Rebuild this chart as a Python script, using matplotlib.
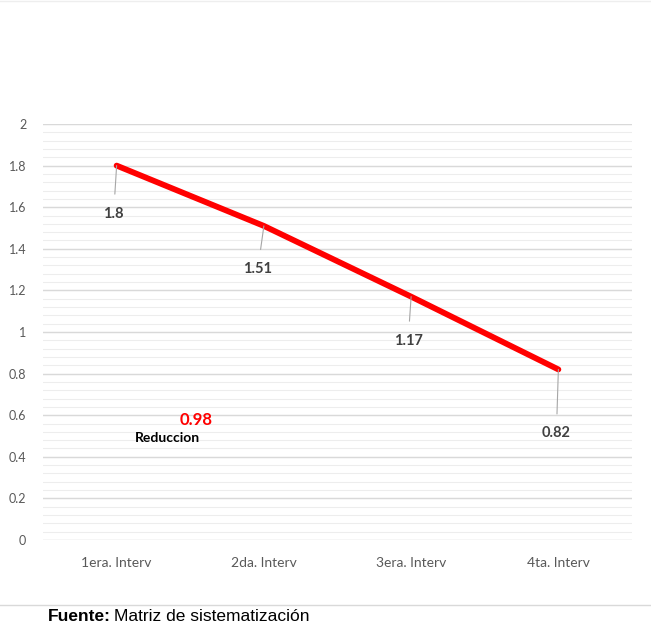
import matplotlib
matplotlib.use("Agg")
import matplotlib.pyplot as plt
import numpy as np

categories = ["1era. Interv", "2da. Interv", "3era. Interv", "4ta. Interv"]
values = [1.8, 1.51, 1.17, 0.82]
value_labels = ["1.8", "1.51", "1.17", "0.82"]
yticks = [0, 0.2, 0.4, 0.6, 0.8, 1.0, 1.2, 1.4, 1.6, 1.8, 2.0]
ytick_labels = ["0", "0.2", "0.4", "0.6", "0.8", "1", "1.2", "1.4", "1.6", "1.8", "2"]
reduction = "0.98"
reduction_label = "Reduccion"

plt.rcParams['font.family'] = ['Lato', 'DejaVu Sans']

W, H = 651, 624
fig = plt.figure(figsize=(W/100, H/100), dpi=100)
ax = fig.add_axes([43/W, 1-540/H, (632-43)/W, (540-124)/H])

x = np.arange(len(categories))
ax.set_xlim(-0.5, 3.5)
ax.set_ylim(0, 2)

# minor grid
for v in np.arange(0, 2.0001, 0.04):
    ax.axhline(v, color="#ededed", lw=0.8, zorder=0)
for v in yticks:
    ax.axhline(v, color="#d9d9d9", lw=1.0, zorder=1)

ax.plot(x, values, color="#ff0000", lw=4.2, solid_capstyle="round", zorder=3)

# data labels with leader lines (offsets in pixels)
offsets = [(-3, -48), (-6, -43), (-3, -44), (-2, -64)]
for xi, v, lab, (dx, dy) in zip(x, values, value_labels, offsets):
    ax.annotate(lab, xy=(xi, v), xytext=(dx*0.72, dy*0.72), textcoords="offset points",
                ha="center", va="center", fontsize=10.5, fontweight="bold", color="#404040",
                arrowprops=dict(arrowstyle="-", color="#a6a6a6", lw=0.8,
                                shrinkA=7, shrinkB=0), zorder=4)

ax.set_yticks(yticks)
ax.set_yticklabels(ytick_labels, color="#595959", fontsize=9)
ax.set_xticks(x)
ax.set_xticklabels(categories, color="#595959", fontsize=10)
ax.tick_params(length=0, pad=12)
ax.tick_params(axis="x", pad=12)
for s in ax.spines.values():
    s.set_visible(False)

fig.text(196/W, 1-420/H, reduction, color="#ff0000", fontsize=12, fontweight="bold",
         ha="center", va="center")
fig.text(167/W, 1-438/H, reduction_label, color="#000000", fontsize=10, fontweight="bold",
         ha="center", va="center")

# chart border lines
fig.add_artist(plt.Line2D([0, 1], [1-605/H, 1-605/H], color="#d9d9d9", lw=1))
fig.add_artist(plt.Line2D([0, 1], [1-1/H, 1-1/H], color="#eeeeee", lw=1))

t1 = fig.text(48/W, 1-621/H, "Fuente:", fontsize=12.5, fontweight="bold", family="Liberation Sans",
              ha="left", va="baseline")
fig.canvas.draw()
bb = t1.get_window_extent()
fig.text((bb.x1 + 3)/W, 1-621/H, "Matriz de sistematización", fontsize=12.5,
         family="Liberation Sans", ha="left", va="baseline")

fig.savefig("out.png", dpi=100)
